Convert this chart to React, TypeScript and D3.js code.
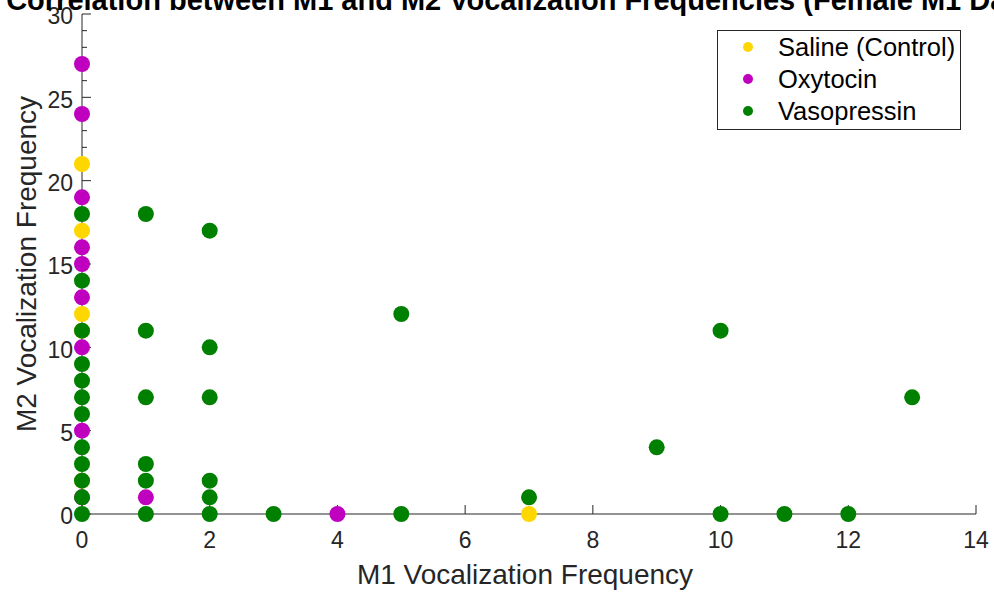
import React from "react";
import * as d3 from "d3";

const salineX = [0, 0, 0, 0, 0, 7];
const salineY = [21, 17, 12, 11, 2, 0];
const oxytocinX = [0, 0, 0, 0, 0, 0, 0, 0, 0, 1, 4];
const oxytocinY = [27, 24, 19, 16, 15, 13, 10, 5, 1, 1, 0];
const vasopressinX = [0, 0, 0, 0, 0, 0, 0, 0, 0, 0, 0, 0, 1, 1, 1, 1, 1, 1, 2, 2, 2, 2, 2, 2, 3, 5, 5, 7, 9, 10, 10, 11, 12, 13];
const vasopressinY = [18, 14, 11, 9, 8, 7, 6, 4, 3, 2, 1, 0, 18, 11, 7, 3, 2, 0, 17, 10, 7, 2, 1, 0, 0, 12, 0, 1, 4, 11, 0, 0, 0, 7];

const xTicks = [0, 2, 4, 6, 8, 10, 12, 14];
const yTicks = [0, 5, 10, 15, 20, 25, 30];
const yMinorTicks = d3.range(0, 31, 1);

const seriesNames = ["Saline (Control)", "Oxytocin", "Vasopressin"];
const seriesColors = ["#FFD700", "#BF00BF", "#008000"];

const titleText = "Correlation between M1 and M2 Vocalization Frequencies (Female M1 Data)";
const xLabel = "M1 Vocalization Frequency";
const yLabel = "M2 Vocalization Frequency";

export default function App() {
  const W = 994, H = 592;
  const x = d3.scaleLinear().domain([0, 14]).range([82, 976]);
  const y = d3.scaleLinear().domain([0, 30]).range([514, 14]);
  const axisColor = "#262626";
  const font = "'Liberation Sans', Arial, Helvetica, sans-serif";

  const series = [
    { xs: salineX, ys: salineY },
    { xs: oxytocinX, ys: oxytocinY },
    { xs: vasopressinX, ys: vasopressinY },
  ];

  const y0 = y(0);
  const x0 = x(0);

  return (
    <svg width={W} height={H} style={{ position: "absolute", left: 0, top: 0, background: "#fff" }} fontFamily={font}>
      <rect x={0} y={0} width={W} height={H} fill="#fff" />
      {/* axes lines */}
      <line x1={x0} x2={x(14)} y1={y0} y2={y0} stroke={axisColor} strokeWidth={1} />
      <line x1={x0} x2={x0} y1={y(0)} y2={y(30)} stroke={axisColor} strokeWidth={1} />
      {/* y minor ticks */}
      {yMinorTicks.filter((t) => t % 5 !== 0).map((t) => (
        <line key={"ym" + t} x1={x0} x2={x0 + 5} y1={y(t)} y2={y(t)} stroke={axisColor} strokeWidth={1} />
      ))}
      {/* y major ticks */}
      {yTicks.map((t) => (
        <g key={"y" + t}>
          <line x1={x0} x2={x0 + 9} y1={y(t)} y2={y(t)} stroke={axisColor} strokeWidth={1} />
          <text x={x0 - 9} y={y(t)} dy="0.45em" textAnchor="end" fontSize={23} fill={axisColor}>{t}</text>
        </g>
      ))}
      {/* x ticks */}
      {xTicks.map((t) => (
        <g key={"x" + t}>
          <line x1={x(t)} x2={x(t)} y1={y0} y2={y0 - 9} stroke={axisColor} strokeWidth={1} />
          <text x={x(t)} y={y0 + 34} textAnchor="middle" fontSize={23} fill={axisColor}>{t}</text>
        </g>
      ))}
      {/* points */}
      {series.map((s, si) => (
        <g key={"s" + si}>
          {s.xs.map((xv, i) => (
            <circle key={i} cx={x(xv)} cy={y(s.ys[i])} r={8} fill={seriesColors[si]} />
          ))}
        </g>
      ))}
      {/* axis labels */}
      <text x={(x(0) + x(14)) / 2 - 4} y={584} textAnchor="middle" fontSize={28} fill={axisColor}>{xLabel}</text>
      <text transform={`translate(36, ${(y(0) + y(30)) / 2}) rotate(-90)`} textAnchor="middle" fontSize={28} fill={axisColor}>{yLabel}</text>
      {/* title */}
      <text x={(x(0) + x(14)) / 2 - 5} y={10} textAnchor="middle" fontSize={29} fontWeight="bold" fill="#000">{titleText}</text>
      {/* legend */}
      <rect x={717.5} y={30.5} width={243} height={99} fill="#fff" stroke={axisColor} strokeWidth={1} />
      {seriesNames.map((n, i) => (
        <g key={"l" + i}>
          <circle cx={748} cy={47 + i * 32} r={5} fill={seriesColors[i]} />
          <text x={778} y={47 + i * 32} dy="0.36em" fontSize={25.5} fill="#000">{n}</text>
        </g>
      ))}
    </svg>
  );
}
